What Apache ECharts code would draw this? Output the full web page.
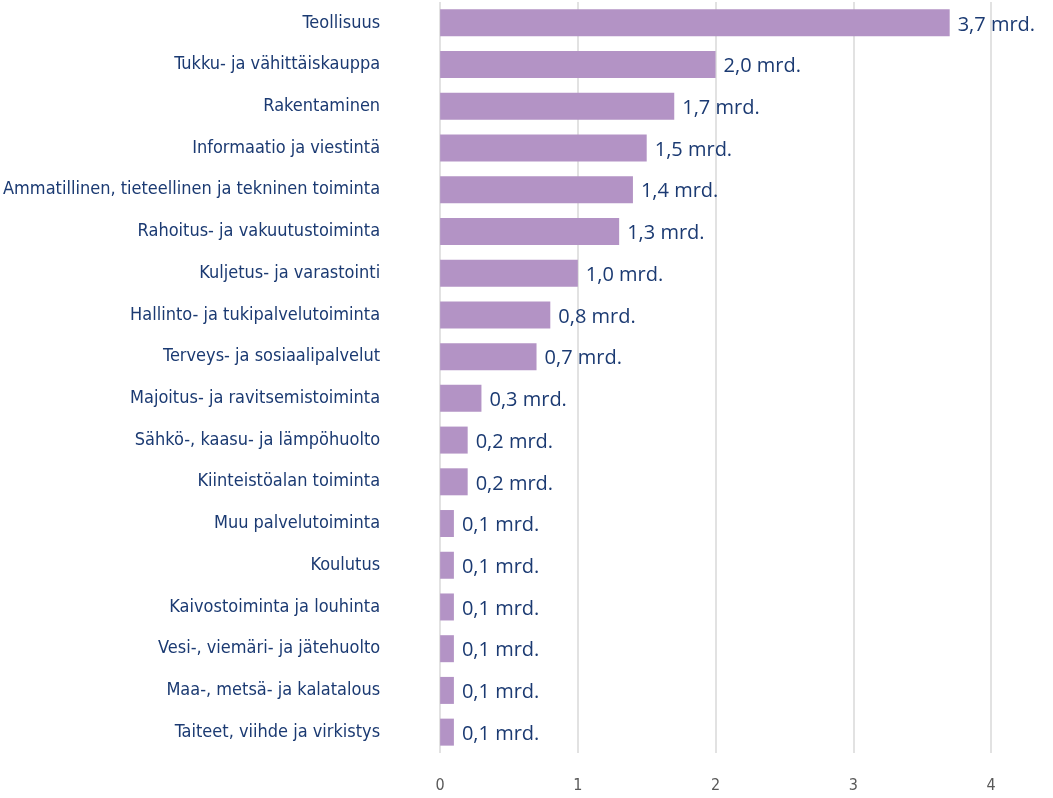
<!DOCTYPE html>
<html>
<head>
<meta charset="utf-8">
<script src="https://cdn.jsdelivr.net/npm/echarts@6/dist/echarts.min.js"></script>
<style>
  html, body { margin: 0; padding: 0; background: #fff; }
  #chart { width: 1053px; height: 798px; }
</style>
</head>
<body>
<div id="chart"></div>
<script>
// toimialat, suurimmasta pienimpään
const categories = [
  'Teollisuus',
  'Tukku- ja vähittäiskauppa',
  'Rakentaminen',
  'Informaatio ja viestintä',
  'Ammatillinen, tieteellinen ja tekninen toiminta',
  'Rahoitus- ja vakuutustoiminta',
  'Kuljetus- ja varastointi',
  'Hallinto- ja tukipalvelutoiminta',
  'Terveys- ja sosiaalipalvelut',
  'Majoitus- ja ravitsemistoiminta',
  'Sähkö-, kaasu- ja lämpöhuolto',
  'Kiinteistöalan toiminta',
  'Muu palvelutoiminta',
  'Koulutus',
  'Kaivostoiminta ja louhinta',
  'Vesi-, viemäri- ja jätehuolto',
  'Maa-, metsä- ja kalatalous',
  'Taiteet, viihde ja virkistys'
]
// mrd. euroa
const values = [3.7, 2.0, 1.7, 1.5, 1.4, 1.3, 1.0, 0.8, 0.7, 0.3, 0.2, 0.2, 0.1, 0.1, 0.1, 0.1, 0.1, 0.1]
const xTicks = [0, 1, 2, 3, 4]

const navy = '#1b3a72'
const narrow = "'Liberation Sans Narrow', 'DejaVu Sans Condensed', sans-serif"
const chart = echarts.init(document.getElementById('chart'))

chart.setOption({
  animation: false,
  grid: {
    left: 440,
    right: 62,
    top: 2,
    height: 751
  },
  xAxis: {
    type: 'value',
    min: xTicks[0],
    max: xTicks[xTicks.length - 1],
    interval: 1,
    axisLine: { show: false },
    axisTick: { show: false },
    axisLabel: {
      color: '#595959',
      fontSize: 16,
      fontFamily: narrow,
      margin: 25
    },
    splitLine: { lineStyle: { color: '#d9d9d9', width: 1.5 } }
  },
  yAxis: {
    type: 'category',
    inverse: true,
    data: categories,
    axisLine: { show: false },
    axisTick: { show: false },
    axisLabel: {
      color: navy,
      fontSize: 18,
      fontFamily: narrow,
      margin: 60
    }
  },
  series: [
    {
      type: 'bar',
      data: values,
      barWidth: 27,
      itemStyle: { color: '#b393c5' },
      label: {
        show: true,
        position: 'right',
        distance: 8,
        offset: [0, 2],
        color: navy,
        fontSize: 20,
        fontFamily: "'Open Sans', 'Noto Sans', sans-serif",
        formatter: (p) => p.value.toFixed(1).replace('.', ',') + ' mrd.'
      }
    }
  ]
})
</script>
</body>
</html>
